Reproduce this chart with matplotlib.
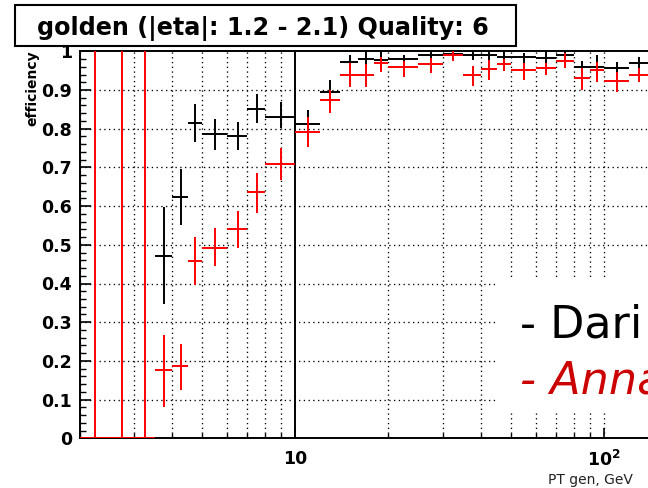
import numpy as np
import matplotlib
matplotlib.use("Agg")
import matplotlib.pyplot as plt
from matplotlib.patches import Rectangle
from matplotlib.ticker import FixedLocator, NullFormatter

plt.rcParams["font.family"] = ["DejaVu Sans"]
plt.rcParams["mathtext.fontset"] = "dejavusans"

# pT bin edges (GeV)
pt_edges = [2, 2.5, 3, 3.5, 4, 4.5, 5, 6, 7, 8, 10, 12, 14, 16, 18, 20,
            25, 30, 35, 40, 45, 50, 60, 70, 80, 90, 100, 120, 140]

# black series starts at the 4th bin (3.5-4 GeV)
black_first_bin = 3
black_eff = [0.471, 0.624, 0.814, 0.786, 0.782, 0.850, 0.829, 0.812, 0.896,
             0.973, 0.980, 0.978, 0.980, 0.990, 0.993, 0.990, 0.990, 0.986,
             0.986, 0.983, 0.990, 0.960, 0.960, 0.956, 0.969]
black_low = [0.347, 0.551, 0.766, 0.745, 0.745, 0.816, 0.801, 0.775, 0.865,
             0.955, 0.963, 0.960, 0.965, 0.975, 0.980, 0.978, 0.975, 0.970,
             0.969, 0.963, 0.975, 0.945, 0.940, 0.930, 0.956]
black_high = [0.598, 0.696, 0.864, 0.825, 0.818, 0.890, 0.870, 0.848, 0.926,
              0.990, 1.000, 1.000, 0.990, 1.000, 1.000, 1.000, 1.000, 1.000,
              0.995, 1.000, 1.000, 0.975, 0.990, 0.973, 0.986]

red_eff = [0.0, 0.0, 0.0, 0.177, 0.188, 0.458, 0.491, 0.541, 0.636, 0.708,
           0.791, 0.874, 0.939, 0.939, 0.969, 0.960, 0.966, 0.990, 0.939,
           0.954, 0.967, 0.952, 0.956, 0.976, 0.930, 0.952, 0.923, 0.939]
red_low = [0.0, 0.0, 0.0, 0.082, 0.125, 0.396, 0.445, 0.491, 0.583, 0.667,
           0.753, 0.840, 0.909, 0.909, 0.947, 0.934, 0.945, 0.975, 0.911,
           0.926, 0.950, 0.926, 0.939, 0.956, 0.900, 0.921, 0.896, 0.921]
red_high = [1.0, 1.0, 1.0, 0.267, 0.244, 0.521, 0.543, 0.588, 0.686, 0.751,
            0.831, 0.900, 0.969, 0.967, 0.986, 0.975, 0.982, 1.000, 0.963,
            0.978, 0.980, 0.969, 0.969, 0.995, 0.956, 0.973, 0.947, 0.956]

y_ticks = [0, 0.1, 0.2, 0.3, 0.4, 0.5, 0.6, 0.7, 0.8, 0.9, 1.0]
y_tick_labels = ["0", "0.1", "0.2", "0.3", "0.4", "0.5", "0.6", "0.7", "0.8", "0.9", "1"]
x_major = [10, 100]
x_major_labels = ["10", r"$\mathbf{10^{2}}$"]

title_text = "golden (|eta|: 1.2 - 2.1) Quality: 6"
legend_lines = ["- Dari", "- Anna"]

W, H = 648, 488
fig = plt.figure(figsize=(W / 100, H / 100), dpi=100)
fig.patch.set_facecolor("white")

ax_left, ax_right = 79.5, 697.0
ax_top, ax_bottom = 51.3, 438.3
ax = fig.add_axes([ax_left / W, (H - ax_bottom) / H,
                   (ax_right - ax_left) / W, (ax_bottom - ax_top) / H])
ax.set_xscale("log")
ax.set_xlim(2, 200)
ax.set_ylim(0, 1)

edges = np.array(pt_edges, dtype=float)
centers = 0.5 * (edges[:-1] + edges[1:])
half_w = 0.5 * (edges[1:] - edges[:-1])

# grid
dots = (0, (1, 2.6))
ax.set_yticks(y_ticks)
ax.set_yticklabels(y_tick_labels)
ax.yaxis.set_minor_locator(FixedLocator(np.round(np.arange(0, 1.0001, 0.02), 3)))
ax.set_xticks(x_major)
ax.set_xticklabels(x_major_labels)
minor_x = [m * 10 ** k for k in (0, 1, 2) for m in range(2, 10) if 2 <= m * 10 ** k <= 200]
ax.xaxis.set_minor_locator(FixedLocator(minor_x))
ax.xaxis.set_minor_formatter(NullFormatter())
for yv in y_ticks[1:-1]:
    ax.axhline(yv, color="black", lw=0.95, ls=dots, zorder=1)
for xv in minor_x + [100]:
    ax.axvline(xv, color="black", lw=0.95, ls=dots, zorder=1)
ax.axvline(10, color="black", lw=1.4, zorder=2)

# efficiency points
bc = centers[black_first_bin:]
bw = half_w[black_first_bin:]
be = np.array(black_eff)
ax.errorbar(bc, be, xerr=bw,
            yerr=[be - np.array(black_low), np.array(black_high) - be],
            fmt="none", ecolor="black", elinewidth=1.4, capsize=0, zorder=3,
            clip_on=True)
re = np.array(red_eff)
ax.errorbar(centers, re, xerr=half_w,
            yerr=[re - np.array(red_low), np.array(red_high) - re],
            fmt="none", ecolor="#ff0000", elinewidth=1.4, capsize=0, zorder=4,
            clip_on=True)

for s in ax.spines.values():
    s.set_linewidth(1.4)
    s.set_zorder(2.5)

ax.tick_params(axis="y", which="major", direction="in", length=8, width=1.2,
               labelsize=12.5, pad=5.5, right=False)
ax.tick_params(axis="y", which="minor", direction="in", length=4.5, width=1.0,
               right=False)
ax.tick_params(axis="x", which="major", direction="in", length=7, width=1.2,
               labelsize=12.5, pad=8.5, top=False)
ax.tick_params(axis="x", which="minor", direction="in", length=3.6, width=1.0,
               top=False)
for lab in ax.get_yticklabels() + ax.get_xticklabels():
    lab.set_fontweight("bold")

# axis titles
fig.text(32 / W, (H - 50) / H, "efficiency", rotation=90, ha="center", va="top",
         fontsize=10, fontweight="bold")
fig.text(548 / W, (H - 484) / H, "PT gen, GeV", ha="left", va="baseline",
         fontsize=10, color="#222222")

# title box
fig.add_artist(Rectangle((15 / W, (H - 46) / H), (516 - 15) / W, 41 / H,
                         transform=fig.transFigure, facecolor="white",
                         edgecolor="black", lw=1.5, zorder=10))
fig.text(263 / W, (H - 35) / H, title_text, ha="center", va="baseline",
         fontsize=17.2, fontweight="bold", zorder=11)

# legend notes
fig.add_artist(Rectangle((498 / W, (H - 412) / H), 160 / W, (412 - 279) / H,
                         transform=fig.transFigure, facecolor="white",
                         edgecolor="none", zorder=10))
fig.text(520 / W, (H - 337) / H, legend_lines[0], ha="left", va="baseline",
         fontsize=32, color="black", zorder=11)
fig.text(520 / W, (H - 394) / H, legend_lines[1], ha="left", va="baseline",
         fontsize=32, color="#cc0000", style="italic", zorder=11)

fig.savefig("out.png", dpi=100)
